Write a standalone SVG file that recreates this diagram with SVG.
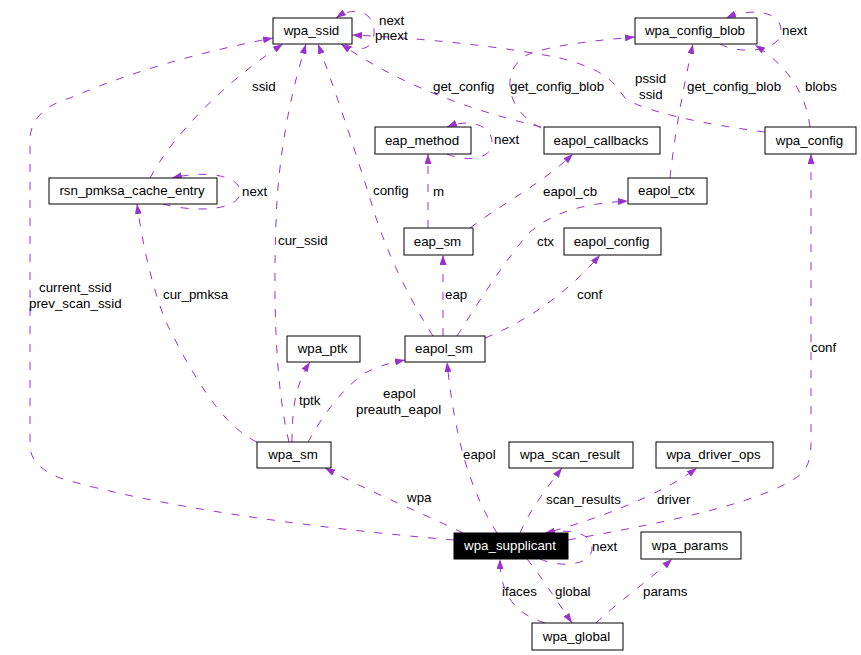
<svg xmlns="http://www.w3.org/2000/svg" width="861" height="655" viewBox="0 0 861 655">
<style>
.n rect{fill:#fff;stroke:#000;stroke-width:1}
.n text{font-family:"Liberation Sans",Arial,sans-serif;font-size:13.33px;fill:#000;text-anchor:middle}
#wpa_supplicant rect{fill:#000}
#wpa_supplicant text{fill:#fff}
.e path{fill:none;stroke:#9a32cd;stroke-width:1;stroke-dasharray:8,10;marker-end:url(#ah)}
.l text{font-family:"Liberation Sans",Arial,sans-serif;font-size:13.33px;fill:#000}
</style>
<defs>
<marker id="ah" viewBox="0 0 10 7" refX="10" refY="3.5" markerWidth="10" markerHeight="7" markerUnits="userSpaceOnUse" orient="auto">
<path d="M0,0 L10,3.5 L0,7 z" fill="#9a32cd"/>
</marker>
</defs>
<rect width="861" height="655" fill="#fff"/>
<g id="connectors" class="e">
<path d="M345,44 C365,55 375,45 374,30 C373,12 355,5 336,18"/>
<path d="M720,44 C740,55 782,52 781,30 C780,10 750,8 726,18"/>
<path d="M810,127 C806,95 790,68 755,45"/>
<path d="M670,178 C675,130 685,80 693,44"/>
<path d="M541,128 C505,110 500,70 527,55 C550,45 600,40 635,37"/>
<path d="M541,127 C470,110 400,85 341,44"/>
<path d="M765,132 C700,124 640,110 625,98 C612,80 605,70 560,58 C500,46 420,38 352,35"/>
<path d="M447,154 C465,162 492,160 492,143 C492,125 470,118 447,127"/>
<path d="M428,228 L428,154"/>
<path d="M470,228 C500,205 540,185 573,154"/>
<path d="M457,336 C480,300 505,260 530,232 C555,210 590,203 628,201"/>
<path d="M485,338 C530,320 570,290 600,255"/>
<path d="M443,336 L443,255"/>
<path d="M433,336 C410,300 385,250 372,205 C355,150 335,90 318,44"/>
<path d="M289,442 C276,390 272,300 277,200 C282,130 295,80 306,44"/>
<path d="M150,178 C170,140 220,85 283,44"/>
<path d="M163,204 C190,212 240,212 240,192 C240,175 205,170 172,178"/>
<path d="M257,442 C220,425 190,370 165,320 C150,280 142,240 137,204"/>
<path d="M292,442 C292,410 295,385 310,362"/>
<path d="M308,442 C320,420 340,390 365,373 C380,365 395,362 405,360"/>
<path d="M454,540 C300,527 150,505 60,478 C35,468 30,455 30,445 L30,140 C30,120 45,105 70,98 C130,72 200,52 273,38"/>
<path d="M463,533 C420,512 370,492 325,468"/>
<path d="M497,533 C470,490 455,440 447,362"/>
<path d="M520,533 C530,510 545,490 562,468"/>
<path d="M553,531 C600,518 660,495 697,468"/>
<path d="M568,540 C650,525 760,505 800,475 C810,465 811,455 811,440 L811,154"/>
<path d="M540,559 C560,568 592,566 592,548 C592,533 570,528 545,533"/>
<path d="M545,623 C520,615 500,600 500,559"/>
<path d="M527,559 C540,575 555,598 572,623"/>
<path d="M596,623 C620,600 650,580 672,559"/>
</g>
<g id="labels" class="l">
<text x="379" y="25">next</text>
<text x="375" y="40">pnext</text>
<text x="252" y="91">ssid</text>
<text x="433" y="91">get_config</text>
<text x="510" y="91">get_config_blob</text>
<text x="635" y="83">pssid</text>
<text x="639" y="99">ssid</text>
<text x="687" y="91">get_config_blob</text>
<text x="805" y="91">blobs</text>
<text x="782" y="35">next</text>
<text x="494" y="144">next</text>
<text x="242" y="196">next</text>
<text x="373" y="195">config</text>
<text x="433" y="196">m</text>
<text x="543" y="196">eapol_cb</text>
<text x="278" y="245">cur_ssid</text>
<text x="537" y="246">ctx</text>
<text x="39" y="292">current_ssid</text>
<text x="29" y="308">prev_scan_ssid</text>
<text x="163" y="299">cur_pmksa</text>
<text x="445" y="299">eap</text>
<text x="577" y="299">conf</text>
<text x="811" y="352">conf</text>
<text x="299" y="405">tptk</text>
<text x="383" y="398">eapol</text>
<text x="356" y="414">preauth_eapol</text>
<text x="463" y="459">eapol</text>
<text x="546" y="504">scan_results</text>
<text x="657" y="504">driver</text>
<text x="407" y="502">wpa</text>
<text x="592" y="551">next</text>
<text x="502" y="596">ifaces</text>
<text x="555" y="596">global</text>
<text x="643" y="596">params</text>
</g>
<g id="wpa_ssid" class="n"><rect x="273" y="18" width="79" height="26"/><text x="311.5" y="35">wpa_ssid</text></g>
<g id="wpa_config_blob" class="n"><rect x="635" y="18" width="122" height="26"/><text x="695" y="35">wpa_config_blob</text></g>
<g id="eap_method" class="n"><rect x="375" y="127" width="96" height="27"/><text x="422" y="145">eap_method</text></g>
<g id="eapol_callbacks" class="n"><rect x="544" y="127" width="116" height="27"/><text x="601" y="145">eapol_callbacks</text></g>
<g id="wpa_config" class="n"><rect x="765" y="127" width="91" height="27"/><text x="809.5" y="145">wpa_config</text></g>
<g id="rsn_pmksa_cache_entry" class="n"><rect x="49" y="178" width="168" height="26"/><text x="132" y="195">rsn_pmksa_cache_entry</text></g>
<g id="eapol_ctx" class="n"><rect x="628" y="178" width="79" height="26"/><text x="666.5" y="195">eapol_ctx</text></g>
<g id="eap_sm" class="n"><rect x="404" y="228" width="69" height="27"/><text x="437.5" y="246">eap_sm</text></g>
<g id="eapol_config" class="n"><rect x="564" y="228" width="97" height="27"/><text x="611.5" y="246">eapol_config</text></g>
<g id="wpa_ptk" class="n"><rect x="287" y="336" width="73" height="26"/><text x="322.5" y="353">wpa_ptk</text></g>
<g id="eapol_sm" class="n"><rect x="405" y="336" width="80" height="26"/><text x="444" y="353">eapol_sm</text></g>
<g id="wpa_sm" class="n"><rect x="257" y="442" width="74" height="26"/><text x="293" y="459">wpa_sm</text></g>
<g id="wpa_scan_result" class="n"><rect x="509" y="442" width="124" height="26"/><text x="570" y="459">wpa_scan_result</text></g>
<g id="wpa_driver_ops" class="n"><rect x="656" y="442" width="117" height="26"/><text x="713.5" y="459">wpa_driver_ops</text></g>
<g id="wpa_supplicant" class="n"><rect x="454" y="533" width="114" height="26"/><text x="510" y="550">wpa_supplicant</text></g>
<g id="wpa_params" class="n"><rect x="641" y="532" width="100" height="27"/><text x="690" y="550">wpa_params</text></g>
<g id="wpa_global" class="n"><rect x="532" y="623" width="91" height="27"/><text x="576.5" y="641">wpa_global</text></g>
</svg>
